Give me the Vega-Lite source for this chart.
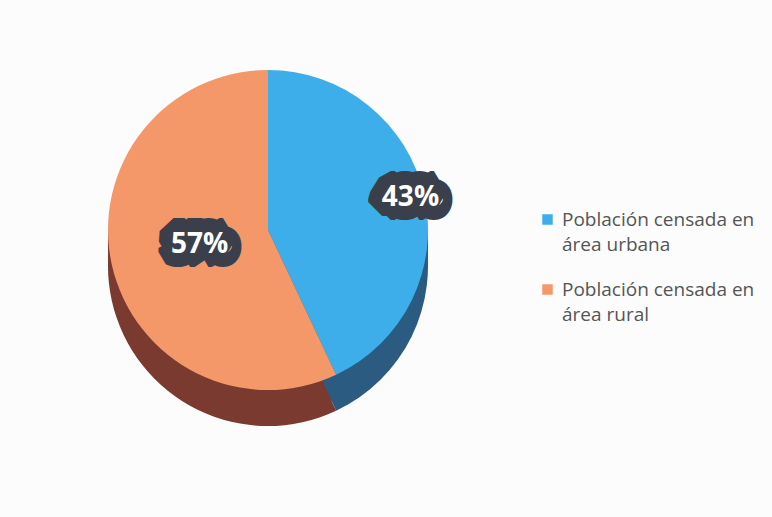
{
  "$schema": "https://vega.github.io/schema/vega-lite/v6.json",
  "width": 536,
  "height": 460,
  "padding": {"left": 0, "top": 0, "right": 17, "bottom": 57},
  "autosize": "pad",
  "background": "#fcfcfc",
  "view": {"stroke": null},
  "data": {"values": [
    {"category": "Población censada en área urbana", "value": 0.43, "order": 1},
    {"category": "Población censada en área rural", "value": 0.57, "order": 2}
  ]},
  "encoding": {
    "theta": {"field": "value", "type": "quantitative", "stack": true},
    "order": {"field": "order", "type": "quantitative"},
    "detail": {"field": "category", "type": "nominal"}
  },
  "layer": [
    {"mark": {"type": "arc", "outerRadius": 160, "yOffset": 12},
     "encoding": {"fill": {"condition": {"test": "datum.order == 1", "value": "#2b5b80"}, "value": "#7a3a30"}}},
    {"mark": {"type": "arc", "outerRadius": 160, "yOffset": 24},
     "encoding": {"fill": {"condition": {"test": "datum.order == 1", "value": "#2b5b80"}, "value": "#7a3a30"}}},
    {"mark": {"type": "arc", "outerRadius": 160, "yOffset": 36},
     "encoding": {"fill": {"condition": {"test": "datum.order == 1", "value": "#2b5b80"}, "value": "#7a3a30"}}},
    {"mark": {"type": "arc", "outerRadius": 160},
     "encoding": {"color": {"field": "category", "type": "nominal",
       "scale": {"domain": ["Población censada en área urbana", "Población censada en área rural"], "range": ["#3daeea", "#f4986a"]},
       "legend": {"title": null, "orient": "none", "legendX": 538, "legendY": 210,
         "symbolType": "square", "symbolSize": 110, "symbolStrokeWidth": 0,
         "labelFont": "Open Sans", "labelFontSize": 19, "labelColor": "#555555",
         "labelOffset": 5, "rowPadding": 25, "labelLimit": 300,
         "labelExpr": "[substring(datum.label,0,20), substring(datum.label,21)]",
         "encode": {"labels": {"update": {"lineHeight": {"value": 25}}}}}}}},
    {"mark": {"type": "text", "radius": 146, "font": "Open Sans", "fontSize": 28, "fontWeight": "bold", "fill": "#3b3f4b", "stroke": "#3b3f4b", "strokeWidth": 28, "strokeJoin": "bevel"},
     "encoding": {"text": {"field": "value", "type": "quantitative", "format": ".0%"},
       "opacity": {"condition": {"test": "datum.order == 1", "value": 1}, "value": 0}}},
    {"mark": {"type": "text", "radius": 146, "font": "Open Sans", "fontSize": 28, "fontWeight": "bold", "fill": "#ffffff"},
     "encoding": {"text": {"field": "value", "type": "quantitative", "format": ".0%"},
       "opacity": {"condition": {"test": "datum.order == 1", "value": 1}, "value": 0}}},
    {"mark": {"type": "text", "radius": 70, "font": "Open Sans", "fontSize": 28, "fontWeight": "bold", "fill": "#3b3f4b", "stroke": "#3b3f4b", "strokeWidth": 28, "strokeJoin": "bevel"},
     "encoding": {"text": {"field": "value", "type": "quantitative", "format": ".0%"},
       "opacity": {"condition": {"test": "datum.order == 2", "value": 1}, "value": 0}}},
    {"mark": {"type": "text", "radius": 70, "font": "Open Sans", "fontSize": 28, "fontWeight": "bold", "fill": "#ffffff"},
     "encoding": {"text": {"field": "value", "type": "quantitative", "format": ".0%"},
       "opacity": {"condition": {"test": "datum.order == 2", "value": 1}, "value": 0}}}
  ]
}
